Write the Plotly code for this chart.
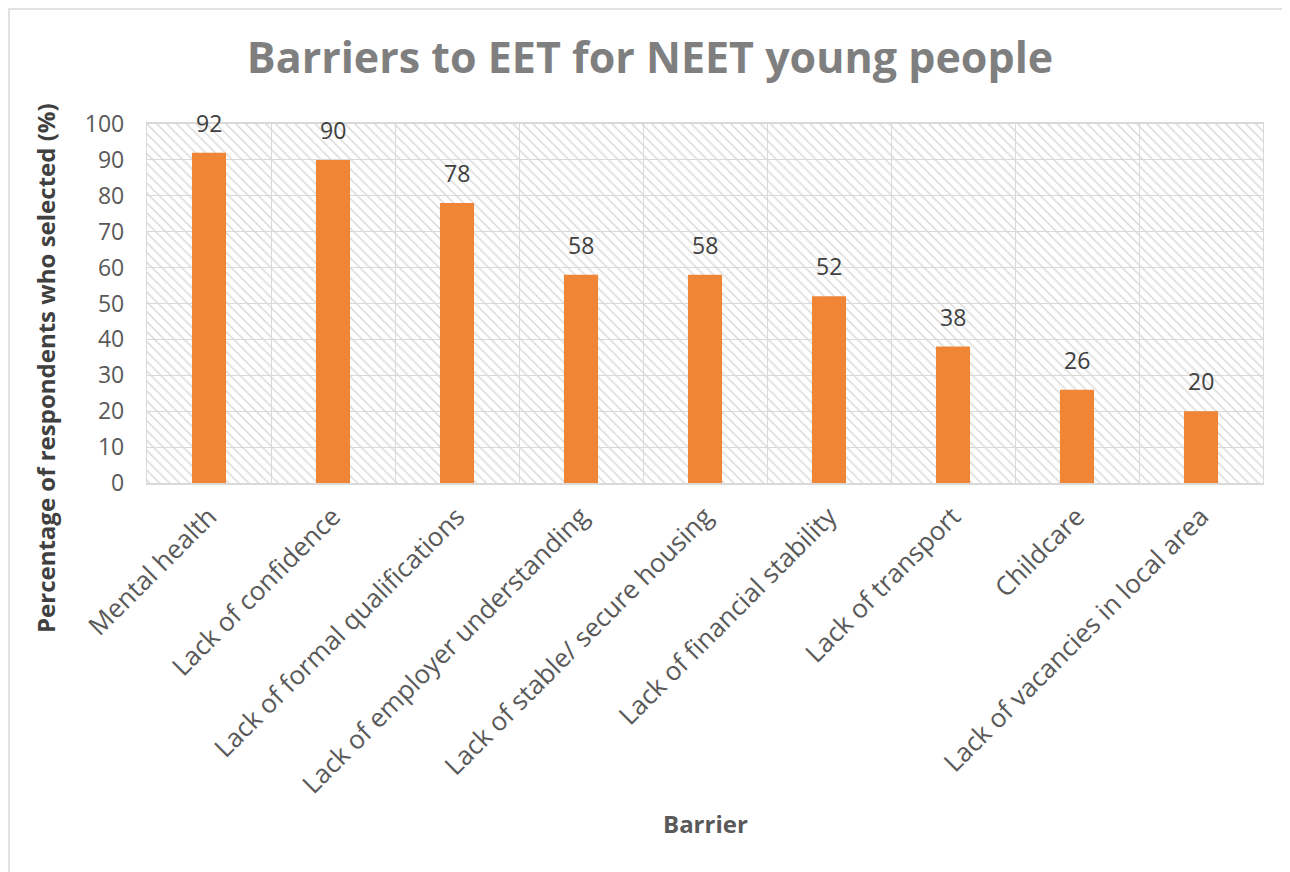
import plotly.graph_objects as go

categories = ["Mental health", "Lack of confidence", "Lack of formal qualifications",
              "Lack of employer understanding", "Lack of stable/ secure housing",
              "Lack of financial stability", "Lack of transport", "Childcare",
              "Lack of vacancies in local area"]
values = [92, 90, 78, 58, 58, 52, 38, 26, 20]
y_ticks = list(range(0, 101, 10))
y_max = 100

FONT = "Open Sans"
ORANGE = "#F18536"
GRID = "#D9D9D9"

# page body has an 8px margin, so figure pixel = reference pixel - 8
W, H = 1282, 864
L, R, T, B = 139, 27, 116, 389
plot_w = W - L - R
plot_h = H - T - B


def px_x(x):
    return (x - 8 - L) / plot_w


def px_y(y):
    return (H - B - (y - 8)) / plot_h


fig = go.Figure()

# hatched plot-area background (full-height band for each category)
fig.add_trace(go.Bar(
    x=categories, y=[y_max] * len(categories), width=1,
    marker=dict(color="#D9D9D9", line=dict(width=0),
                pattern=dict(shape="\\", size=7, solidity=0.22, fillmode="replace")),
    hoverinfo="skip", showlegend=False))

fig.add_trace(go.Bar(
    x=categories, y=values, width=0.275,
    marker=dict(color=ORANGE, line=dict(width=0)),
    showlegend=False))

annotations = [
    dict(x=c, y=v, xref="x", yref="y", text=str(v), showarrow=False,
         xanchor="center", yanchor="middle", yshift=30,
         font=dict(family=FONT, size=23, color="#404040"))
    for c, v in zip(categories, values)
]
annotations += [
    dict(text="<b>Percentage of respondents who selected (%)</b>", textangle=-90,
         x=px_x(45), xref="paper", y=px_y(368), yref="paper", showarrow=False,
         xanchor="center", yanchor="middle",
         font=dict(family=FONT, size=24, color="#404040")),
    dict(text="<b>Barrier</b>", x=px_x(705), xref="paper", y=px_y(823), yref="paper",
         showarrow=False, xanchor="center", yanchor="middle",
         font=dict(family=FONT, size=24, color="#595959")),
]

fig.update_layout(
    width=W, height=H,
    margin=dict(l=L, r=R, t=T, b=B, autoexpand=False),
    paper_bgcolor="white", plot_bgcolor="white",
    barmode="overlay",
    title=dict(text="<b>Barriers to EET for NEET young people</b>",
               x=(650 - 8) / W, xanchor="center", y=1 - (58 - 8) / H, yanchor="middle",
               xref="container", yref="container",
               font=dict(family=FONT, size=43, color="#7F7F7F")),
    xaxis=dict(type="category", range=[-0.5, len(categories) - 0.5],
               tickson="boundaries", showgrid=True, gridcolor=GRID, gridwidth=1.3,
               showline=True, linecolor=GRID, linewidth=2, mirror=True,
               ticks="", tickangle=-45, ticklabelstandoff=6,
               tickfont=dict(family=FONT, size=26, color="#595959")),
    yaxis=dict(range=[0, y_max], tickvals=y_ticks, showgrid=True, gridcolor=GRID,
               gridwidth=1.3, showline=True, linecolor=GRID, linewidth=1.3, mirror=True,
               zeroline=False, ticks="", ticklabelstandoff=17,
               tickfont=dict(family=FONT, size=23, color="#595959")),
    annotations=annotations,
)

# outer chart border (top/left edges visible in the reference)
fig.add_shape(type="rect", xref="paper", yref="paper",
              x0=px_x(9), x1=px_x(1300), y0=px_y(880), y1=px_y(9),
              line=dict(color="#D9D9D9", width=1.5), fillcolor="rgba(0,0,0,0)", layer="below")

fig.write_html("out.html")
